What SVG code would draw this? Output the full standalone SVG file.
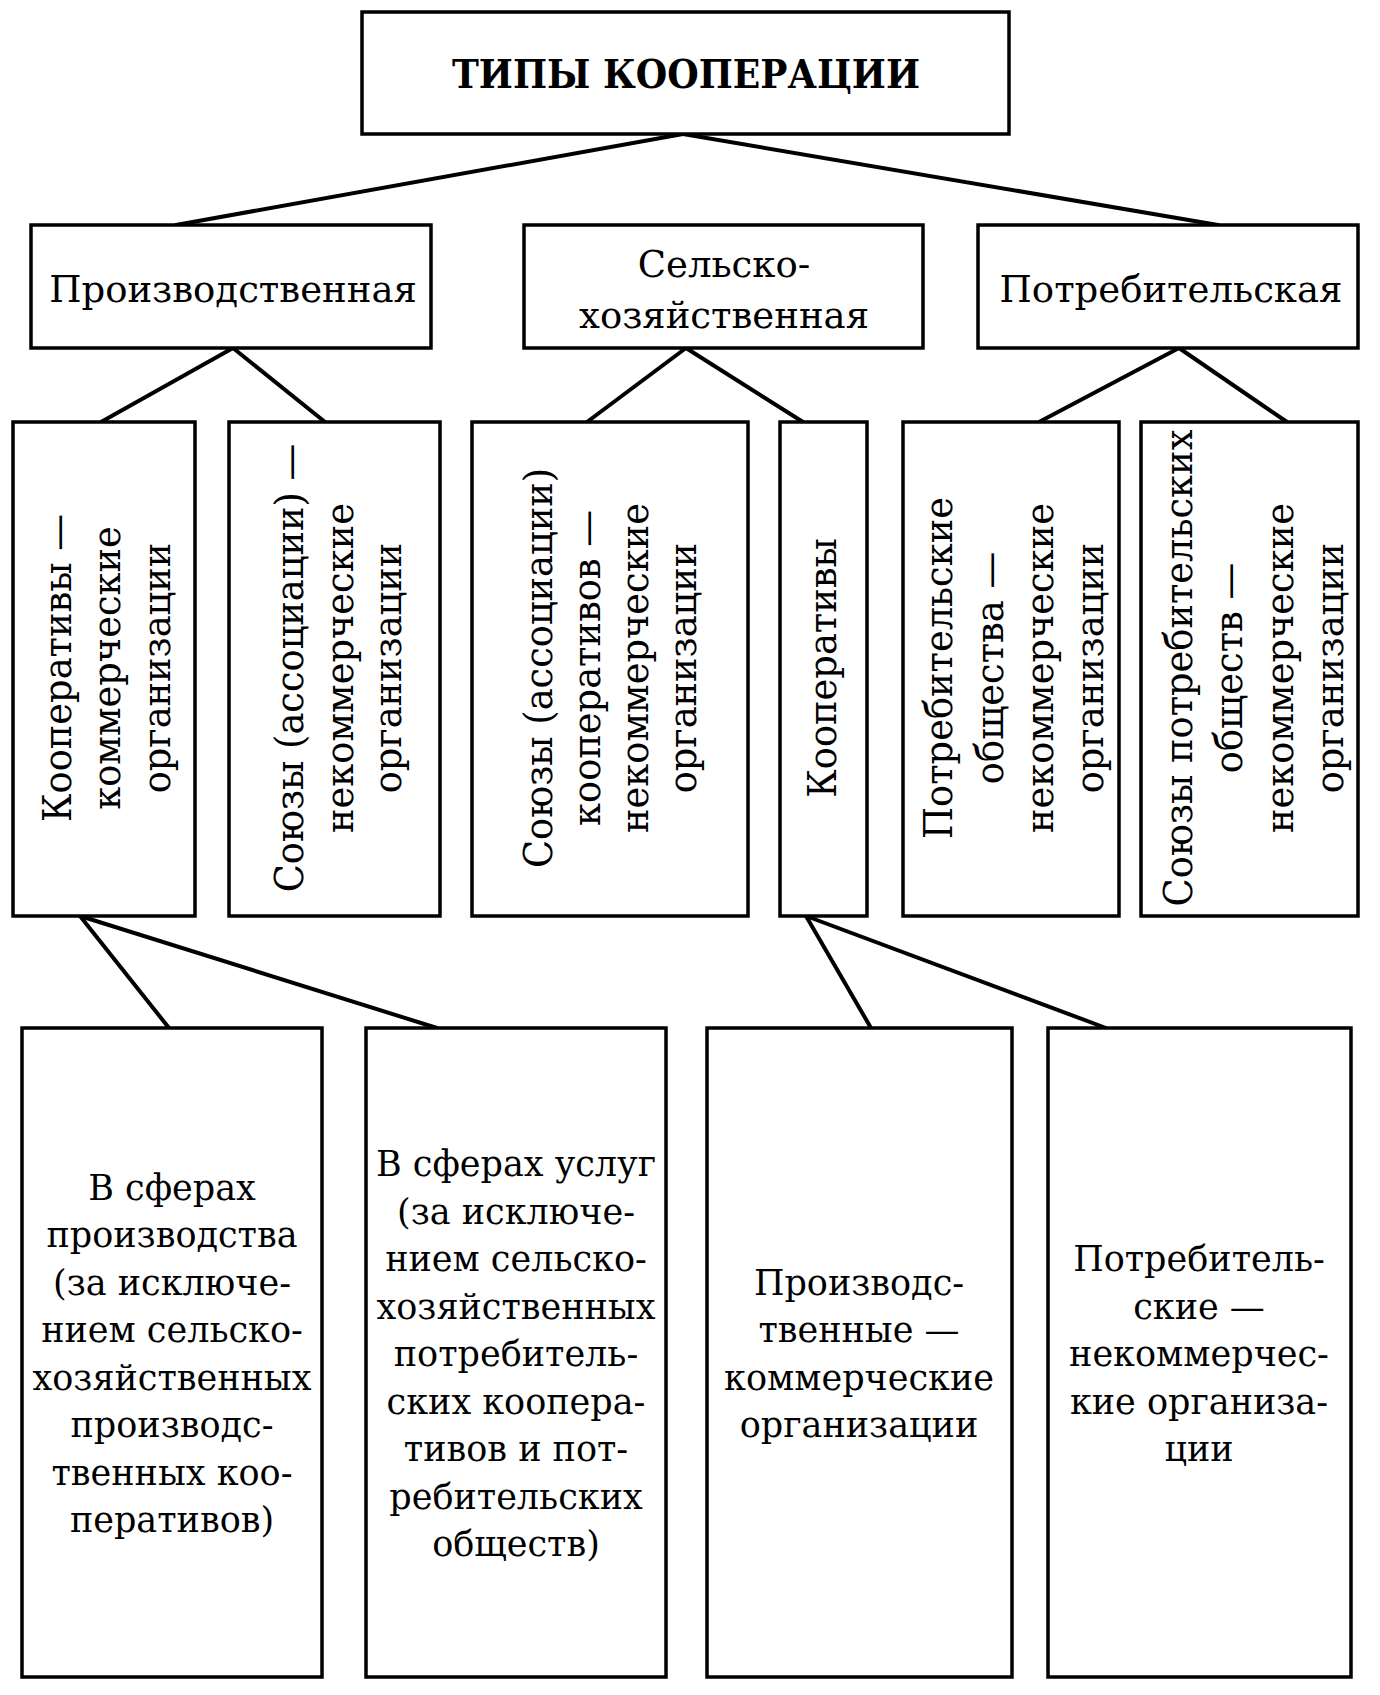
<svg xmlns="http://www.w3.org/2000/svg" width="1380" height="1695" viewBox="0 0 1380 1695">
<style>
rect.box{fill:#fff;stroke:#000;stroke-width:3.5}
.conn line{stroke:#000;stroke-width:4;stroke-linecap:round}
text{font-family:"DejaVu Serif","Liberation Serif",serif;fill:#000}
.title{font-size:40px;font-weight:bold;text-anchor:middle}
.l2{font-size:37px;text-anchor:middle}
.l3{font-size:40px;text-anchor:middle}
.l4{font-size:35px;text-anchor:middle}
</style>
<rect x="0" y="0" width="1380" height="1695" fill="#fff"/>
<g class="conn" id="connectors">
<line x1="683" y1="134" x2="176" y2="225"/>
<line x1="683" y1="134" x2="1218" y2="225"/>
<line x1="233" y1="348" x2="101" y2="422"/>
<line x1="233" y1="348" x2="325" y2="422"/>
<line x1="686" y1="348" x2="587" y2="422"/>
<line x1="686" y1="348" x2="803" y2="422"/>
<line x1="1179" y1="348" x2="1039" y2="422"/>
<line x1="1179" y1="348" x2="1287" y2="422"/>
<line x1="80" y1="916" x2="169" y2="1028"/>
<line x1="80" y1="916" x2="437" y2="1028"/>
<line x1="806" y1="916" x2="871" y2="1028"/>
<line x1="806" y1="916" x2="1106" y2="1028"/>
</g>
<g id="root">
<rect class="box" x="362" y="12" width="647" height="122"/>
<text class="title" x="686" y="88" textLength="468" lengthAdjust="spacingAndGlyphs">ТИПЫ КООПЕРАЦИИ</text>
</g>
<g id="prod">
<rect class="box" x="31" y="225" width="400" height="123"/>
<text class="l2" x="233" y="302">Производственная</text>
</g>
<g id="agri">
<rect class="box" x="524" y="225" width="399" height="123"/>
<text class="l2" x="724" y="277">Сельско-</text>
<text class="l2" x="724" y="328">хозяйственная</text>
</g>
<g id="cons">
<rect class="box" x="978" y="225" width="380" height="123"/>
<text class="l2" x="1171" y="302">Потребительская</text>
</g>
<g id="coop-com">
<rect class="box" x="13" y="422" width="182" height="494"/>
<g transform="translate(0,668) rotate(-90) scale(0.92,1)">
<text class="l3" x="0" y="71">Кооперативы —</text>
<text class="l3" x="0" y="120">коммерческие</text>
<text class="l3" x="0" y="170">организации</text>
</g>
</g>
<g id="unions-prod">
<rect class="box" x="229" y="422" width="211" height="494"/>
<g transform="translate(0,668) rotate(-90) scale(0.92,1)">
<text class="l3" x="0" y="303">Союзы (ассоциации) —</text>
<text class="l3" x="0" y="353">некоммерческие</text>
<text class="l3" x="0" y="401">организации</text>
</g>
</g>
<g id="unions-agri">
<rect class="box" x="472" y="422" width="276" height="494"/>
<g transform="translate(0,668) rotate(-90) scale(0.92,1)">
<text class="l3" x="0" y="552">Союзы (ассоциации)</text>
<text class="l3" x="0" y="600">кооперативов —</text>
<text class="l3" x="0" y="648">некоммерческие</text>
<text class="l3" x="0" y="696">организации</text>
</g>
</g>
<g id="coop-agri">
<rect class="box" x="780" y="422" width="87" height="494"/>
<g transform="translate(0,668) rotate(-90) scale(0.92,1)">
<text class="l3" x="0" y="836">Кооперативы</text>
</g>
</g>
<g id="cons-soc">
<rect class="box" x="903" y="422" width="216" height="494"/>
<g transform="translate(0,668) rotate(-90) scale(0.92,1)">
<text class="l3" x="0" y="952">Потребительские</text>
<text class="l3" x="0" y="1003">общества —</text>
<text class="l3" x="0" y="1053">некоммерческие</text>
<text class="l3" x="0" y="1103">организации</text>
</g>
</g>
<g id="cons-unions">
<rect class="box" x="1141" y="422" width="217" height="494"/>
<g transform="translate(0,668) rotate(-90) scale(0.92,1)">
<text class="l3" x="0" y="1192">Союзы потребительских</text>
<text class="l3" x="0" y="1242">обществ —</text>
<text class="l3" x="0" y="1293">некоммерческие</text>
<text class="l3" x="0" y="1343">организации</text>
</g>
</g>
<g id="sphere-prod">
<rect class="box" x="22" y="1028" width="300" height="649"/>
<text class="l4" x="172" y="1200">В сферах</text>
<text class="l4" x="172" y="1247">производства</text>
<text class="l4" x="172" y="1295">(за исключе-</text>
<text class="l4" x="172" y="1342">нием сельско-</text>
<text class="l4" x="172" y="1390">хозяйственных</text>
<text class="l4" x="172" y="1437">производс-</text>
<text class="l4" x="172" y="1485">твенных коо-</text>
<text class="l4" x="172" y="1532">перативов)</text>
</g>
<g id="sphere-serv">
<rect class="box" x="366" y="1028" width="300" height="649"/>
<text class="l4" x="516" y="1176">В сферах услуг</text>
<text class="l4" x="516" y="1224">(за исключе-</text>
<text class="l4" x="516" y="1271">нием сельско-</text>
<text class="l4" x="516" y="1319">хозяйственных</text>
<text class="l4" x="516" y="1366">потребитель-</text>
<text class="l4" x="516" y="1414">ских коопера-</text>
<text class="l4" x="516" y="1461">тивов и пот-</text>
<text class="l4" x="516" y="1509">ребительских</text>
<text class="l4" x="516" y="1556">обществ)</text>
</g>
<g id="agri-prod">
<rect class="box" x="707" y="1028" width="305" height="649"/>
<text class="l4" x="859" y="1295">Производс-</text>
<text class="l4" x="859" y="1342">твенные —</text>
<text class="l4" x="859" y="1390">коммерческие</text>
<text class="l4" x="859" y="1437">организации</text>
</g>
<g id="agri-cons">
<rect class="box" x="1048" y="1028" width="303" height="649"/>
<text class="l4" x="1199" y="1271">Потребитель-</text>
<text class="l4" x="1199" y="1319">ские —</text>
<text class="l4" x="1199" y="1366">некоммерчес-</text>
<text class="l4" x="1199" y="1414">кие организа-</text>
<text class="l4" x="1199" y="1461">ции</text>
</g>
</svg>
